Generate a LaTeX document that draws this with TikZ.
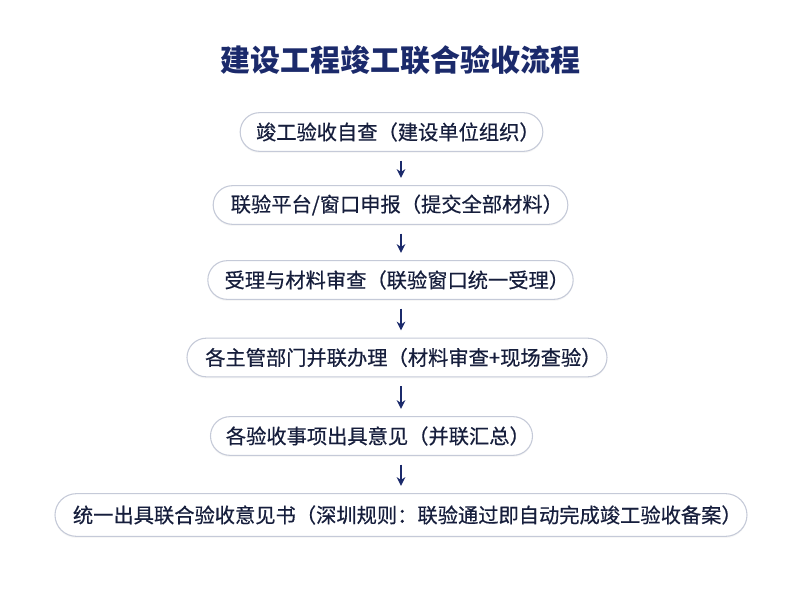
\documentclass[tikz,border=0pt]{standalone}
\usepackage{fontspec}
\setmainfont{Noto Sans CJK SC}
\newfontfamily\boxfont[FakeBold=0.5]{Noto Sans CJK SC}
\usepackage{tikz}
\usetikzlibrary{shadows,arrows.meta}

\definecolor{navy}{HTML}{1B2A6B}
\definecolor{ink}{HTML}{161E3C}
\definecolor{rim}{HTML}{C5CAD8}

\begin{document}
\begin{tikzpicture}[x=0.75pt,y=-0.75pt,
  stepbox/.style={draw=rim,line width=0.8pt,fill=white,rounded corners=14.5pt,
    minimum height=29pt,inner sep=2pt,text=ink,font=\boxfont\fontsize{15.2pt}{17pt}\selectfont,
    execute at begin node=\hspace{9.5pt},
    drop shadow={opacity=0.07,shadow xshift=0pt,shadow yshift=-1.2pt}},
  flow/.style={-{Stealth[length=6.5pt,width=6.5pt]},navy,line width=1.2pt,shorten <=6.5pt,shorten >=5.5pt}]
  \useasboundingbox[fill=white] (0,0) rectangle (800,600);
  \node[text=navy,font=\fontsize{22.5pt}{26pt}\selectfont\bfseries] (title) at (400,60) {建设工程竣工联合验收流程};
  \node[stepbox,minimum width=227pt] (b1) at (391.5,132) {竣工验收自查（建设单位组织）};
  \node[stepbox,minimum width=266pt] (b2) at (390.5,205) {联验平台/窗口申报（提交全部材料）};
  \node[stepbox,minimum width=274pt] (b3) at (390.5,280) {受理与材料审查（联验窗口统一受理）};
  \node[stepbox,minimum width=315pt] (b4) at (397,357.5) {各主管部门并联办理（材料审查+现场查验）};
  \node[stepbox,minimum width=238pt] (b5) at (371.5,436) {各验收事项出具意见（并联汇总）};
  \node[stepbox,minimum width=519pt,minimum height=32pt,rounded corners=16pt] (b6) at (401,515) {统一出具联合验收意见书（深圳规则：联验通过即自动完成竣工验收备案）};
  \coordinate (ax) at (401,0);
  \draw[flow] (b1.south -| ax) -- (b2.north -| ax);
  \draw[flow] (b2.south -| ax) -- (b3.north -| ax);
  \draw[flow] (b3.south -| ax) -- (b4.north -| ax);
  \draw[flow] (b4.south -| ax) -- (b5.north -| ax);
  \draw[flow] (b5.south -| ax) -- (b6.north -| ax);
\end{tikzpicture}
\end{document}
